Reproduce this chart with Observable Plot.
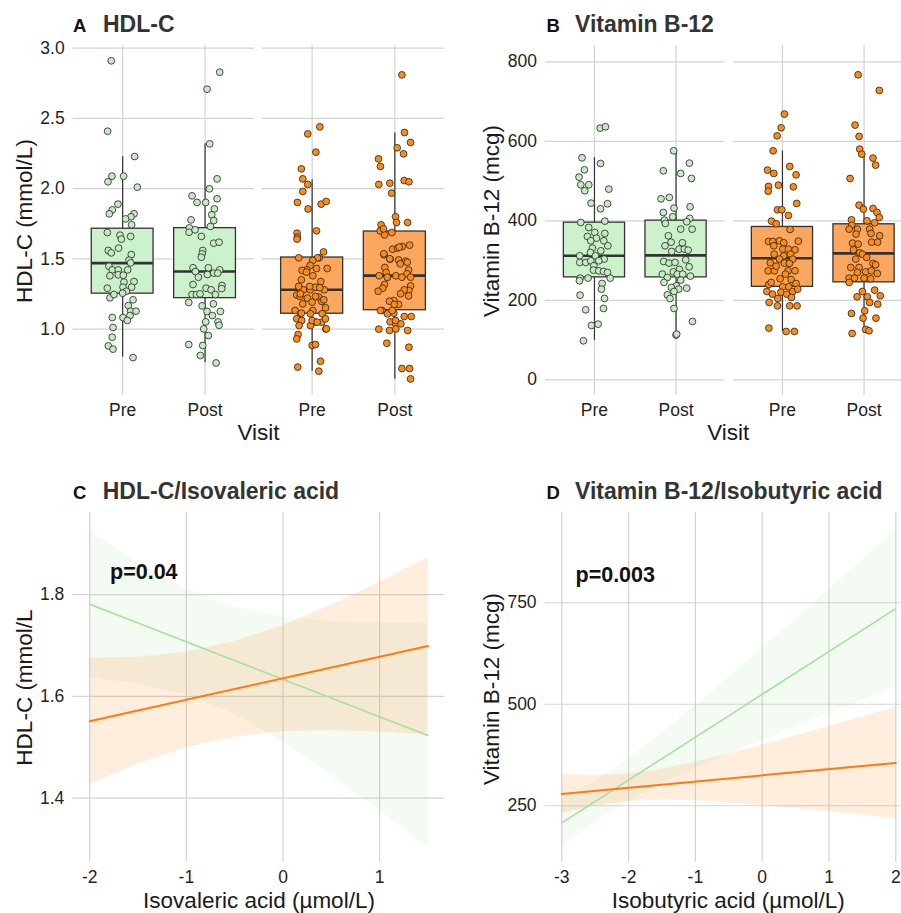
<!DOCTYPE html>
<html><head><meta charset="utf-8">
<script src="https://cdn.jsdelivr.net/npm/d3@7"></script>
<script src="https://cdn.jsdelivr.net/npm/@observablehq/plot@0.6"></script>
<style>
html,body{margin:0;padding:0;background:#fff;overflow:hidden;}
#fig{position:relative;width:912px;height:913px;font-family:"Liberation Sans",Arial,Helvetica,sans-serif;}
</style></head><body><div id="fig"></div>
<script>
// ---------- DATA ----------
const visits = ["Pre", "Post"];

// Panel A: HDL-C (mmol/L); points as [jitter, value]
const hdlGreenPre = [[-0.138,2.910],[-0.182,2.409],[0.146,2.229],[-0.130,2.089],[0.012,2.089],[-0.178,2.049],[0.178,2.011],[-0.057,1.890],[-0.126,1.849],[-0.162,1.821],[0.138,1.821],[0.101,1.800],[0.036,1.785],[0.109,1.743],[-0.186,1.688],[-0.032,1.669],[-0.016,1.641],[0.097,1.660],[-0.174,1.560],[-0.138,1.543],[-0.049,1.577],[0.105,1.531],[0.077,1.491],[0.097,1.472],[-0.166,1.448],[-0.126,1.422],[-0.053,1.422],[0.061,1.422],[-0.154,1.380],[-0.053,1.387],[0.008,1.384],[0.138,1.339],[0.016,1.335],[0.004,1.299],[0.109,1.299],[-0.186,1.292],[0.045,1.270],[0.000,1.256],[-0.154,1.223],[-0.105,1.247],[0.126,1.209],[0.069,1.168],[0.097,1.128],[0.162,1.128],[0.089,1.097],[-0.126,1.083],[0.004,1.083],[0.057,1.062],[-0.117,1.012],[-0.126,0.943],[-0.174,0.881],[-0.117,0.858],[0.126,0.798]];
const hdlGreenPost = [[0.178,2.829],[0.024,2.708],[0.057,2.319],[0.146,2.070],[0.053,1.999],[0.146,1.928],[-0.158,1.949],[-0.097,1.902],[0.008,1.902],[0.113,1.856],[0.081,1.814],[0.105,1.773],[-0.170,1.778],[0.065,1.731],[-0.190,1.721],[-0.194,1.690],[-0.121,1.707],[-0.045,1.660],[0.105,1.612],[0.170,1.619],[-0.028,1.560],[-0.036,1.536],[-0.045,1.512],[-0.146,1.437],[0.040,1.437],[-0.117,1.410],[0.178,1.422],[0.105,1.399],[0.154,1.399],[0.028,1.389],[-0.081,1.370],[0.206,1.311],[0.202,1.289],[-0.146,1.318],[0.012,1.292],[0.073,1.280],[0.125,1.247],[-0.158,1.247],[-0.105,1.247],[-0.061,1.251],[-0.198,1.190],[-0.036,1.166],[0.101,1.180],[0.024,1.126],[0.186,1.126],[0.089,1.097],[0.008,1.052],[0.158,1.052],[0.170,1.028],[-0.016,1.002],[0.040,0.955],[-0.198,0.891],[-0.028,0.884],[-0.057,0.813],[0.134,0.760]];
const hdlOrangePre = [[0.093,2.440],[-0.053,2.390],[0.045,2.260],[-0.130,2.141],[-0.113,2.070],[-0.053,2.030],[-0.113,1.980],[-0.178,1.902],[0.109,1.890],[0.170,1.909],[-0.049,1.856],[0.053,1.700],[-0.182,1.683],[-0.178,1.655],[-0.182,1.641],[0.138,1.550],[-0.162,1.508],[0.085,1.508],[0.065,1.508],[0.008,1.489],[-0.024,1.453],[-0.065,1.422],[0.053,1.432],[0.182,1.432],[0.008,1.380],[0.105,1.339],[-0.130,1.351],[-0.154,1.294],[-0.105,1.280],[-0.024,1.280],[0.040,1.299],[0.146,1.280],[-0.186,1.244],[-0.146,1.233],[-0.057,1.221],[0.081,1.228],[-0.113,1.180],[0.000,1.192],[0.117,1.197],[0.162,1.152],[-0.206,1.133],[-0.142,1.109],[0.008,1.133],[-0.186,1.074],[-0.126,1.062],[0.040,1.050],[0.117,1.050],[-0.020,1.026],[0.166,1.002],[-0.158,1.026],[-0.170,0.962],[-0.186,0.931],[0.000,0.884],[0.040,0.891],[0.101,0.772],[-0.174,0.730],[0.081,0.701],[-0.121,1.418],[-0.069,1.406],[-0.163,1.304],[-0.029,1.304],[0.092,1.295],[-0.142,1.252],[0.040,1.233],[0.141,1.209],[-0.130,1.114],[-0.021,1.110],[0.121,1.110],[0.000,1.062],[0.161,1.074],[0.061,1.050],[0.172,1.003]];
const hdlOrangePost = [[0.085,2.810],[0.117,2.400],[0.190,2.329],[0.028,2.291],[0.105,2.248],[-0.198,2.212],[-0.174,2.158],[-0.194,2.030],[-0.061,2.039],[-0.040,1.968],[0.113,2.058],[0.170,2.049],[0.008,1.800],[0.020,1.759],[0.154,1.759],[-0.166,1.743],[-0.178,1.700],[-0.125,1.671],[-0.138,1.714],[-0.036,1.688],[-0.028,1.569],[0.032,1.577],[0.089,1.588],[0.178,1.598],[-0.130,1.529],[-0.057,1.498],[0.045,1.493],[0.130,1.484],[0.065,1.465],[-0.121,1.439],[-0.105,1.403],[0.166,1.422],[0.146,1.394],[-0.190,1.380],[-0.089,1.370],[0.012,1.380],[0.085,1.370],[0.190,1.308],[-0.125,1.318],[-0.146,1.292],[-0.202,1.270],[0.170,1.275],[0.113,1.280],[0.166,1.237],[-0.012,1.204],[-0.065,1.199],[0.045,1.176],[-0.154,1.133],[-0.089,1.109],[-0.012,1.114],[0.113,1.090],[0.198,1.090],[-0.057,1.052],[0.008,1.038],[0.073,1.038],[-0.065,0.991],[0.012,1.002],[0.154,0.991],[-0.194,1.000],[-0.097,0.900],[0.170,0.872],[0.085,0.720],[0.178,0.720],[0.190,0.646],[-0.008,1.176],[-0.133,1.537],[0.053,1.584],[-0.061,1.501],[0.150,1.477],[-0.092,1.370],[0.191,1.370],[0.069,1.252],[-0.174,1.133],[-0.032,1.133],[0.008,1.062]];
// box stats [lower whisker, Q1, median, Q3, upper whisker] for Pre, Post
const hdlGreenStats = [[0.800,1.253,1.470,1.715,2.228],[0.761,1.221,1.411,1.719,2.320]];
const hdlOrangeStats = [[0.701,1.110,1.281,1.510,2.064],[0.644,1.135,1.381,1.695,2.397]];
const hdlTicks = [1.0, 1.5, 2.0, 2.5, 3.0];

// Panel B: Vitamin B-12 (mcg)
const b12GreenPre = [[0.070,633.1],[0.135,636.5],[-0.152,558.5],[0.074,544.2],[-0.123,528.3],[-0.189,509.9],[-0.168,490.6],[-0.070,490.6],[-0.119,475.5],[0.176,479.7],[-0.041,444.4],[0.160,442.8],[0.074,430.2],[-0.168,395.8],[0.127,399.2],[-0.070,383.2],[0.004,370.6],[-0.086,360.6],[0.127,368.1],[0.025,356.4],[-0.045,349.7],[0.115,349.7],[0.164,337.1],[-0.025,331.2],[-0.049,320.3],[0.078,324.5],[0.012,311.9],[-0.180,311.9],[0.119,303.6],[-0.180,295.2],[-0.107,295.2],[-0.045,299.4],[0.053,299.4],[-0.008,286.8],[-0.012,275.9],[0.053,274.2],[0.111,272.5],[0.160,270.0],[0.193,255.8],[-0.176,255.8],[-0.078,255.8],[-0.184,249.1],[0.094,242.3],[0.086,228.1],[-0.176,213.0],[0.123,204.6],[-0.107,176.1],[0.111,179.4],[-0.037,136.7],[0.045,140.0],[-0.135,98.1]];
const b12GreenPost = [[-0.029,576.1],[0.164,545.1],[-0.156,525.8],[0.057,519.1],[0.189,506.5],[-0.184,455.3],[-0.082,458.7],[-0.025,431.9],[0.172,435.2],[-0.156,421.0],[-0.041,410.1],[-0.143,401.7],[-0.131,393.3],[0.168,405.9],[0.131,397.5],[0.057,379.0],[0.197,379.0],[-0.094,362.3],[-0.061,346.3],[0.078,344.7],[-0.135,337.1],[0.037,328.7],[0.102,328.7],[-0.053,322.8],[0.148,326.2],[-0.152,297.7],[-0.086,293.5],[-0.012,295.2],[0.119,301.9],[0.160,284.3],[0.041,277.6],[-0.033,271.7],[-0.168,265.8],[0.016,265.8],[0.082,265.8],[-0.107,257.4],[0.176,260.8],[-0.148,244.9],[0.057,250.7],[0.004,236.5],[-0.057,232.3],[0.131,230.6],[0.033,228.1],[-0.025,222.2],[-0.107,213.8],[-0.074,204.6],[-0.025,179.4],[0.201,146.7],[0.000,112.4],[0.008,114.9]];
const b12OrangePre = [[0.024,668.4],[-0.016,634.0],[-0.065,613.8],[-0.114,576.1],[-0.183,527.5],[-0.106,519.1],[0.089,536.7],[0.167,515.7],[-0.171,486.4],[-0.049,489.7],[0.134,485.5],[-0.175,474.6],[0.175,443.6],[-0.061,427.7],[-0.008,427.7],[0.073,413.4],[-0.134,399.2],[-0.077,392.5],[0.093,378.2],[-0.171,348.0],[-0.118,348.0],[-0.037,349.7],[0.016,344.7],[0.195,348.8],[-0.106,337.1],[0.004,328.7],[0.073,328.7],[0.154,327.0],[-0.102,316.1],[0.016,311.9],[0.098,316.1],[-0.037,303.6],[0.126,303.6],[-0.150,294.3],[0.024,293.5],[0.085,292.7],[-0.175,274.2],[-0.098,274.2],[0.069,274.2],[0.154,274.2],[-0.028,254.1],[0.106,252.4],[0.167,242.3],[-0.167,239.8],[0.004,233.9],[0.077,233.9],[-0.191,222.2],[-0.122,215.5],[-0.020,220.5],[0.053,215.5],[0.126,222.2],[0.187,228.1],[-0.057,204.6],[0.110,207.1],[-0.163,194.5],[-0.061,186.1],[0.089,186.1],[0.179,186.1],[-0.167,130.0],[0.045,121.6],[0.146,121.6],[0.037,265.8],[-0.077,285.9],[-0.138,244.9]];
const b12OrangePost = [[-0.073,767.3],[0.187,727.9],[-0.110,640.7],[-0.061,612.2],[-0.053,580.3],[-0.028,567.7],[0.110,557.7],[0.142,540.0],[-0.171,506.5],[-0.061,439.4],[-0.008,429.4],[0.110,431.0],[0.159,421.0],[0.187,408.4],[-0.154,402.5],[-0.150,389.1],[0.037,400.0],[0.130,395.0],[-0.183,379.0],[-0.081,379.0],[0.069,379.0],[0.085,368.1],[-0.098,366.5],[0.191,362.3],[0.093,346.3],[-0.142,343.8],[0.167,346.3],[-0.073,341.3],[-0.130,327.0],[-0.053,319.5],[-0.020,316.1],[-0.102,303.6],[0.033,307.8],[0.110,292.7],[-0.163,282.6],[-0.061,282.6],[0.142,289.3],[-0.081,270.0],[0.020,271.7],[0.089,274.2],[0.163,267.5],[-0.183,255.8],[-0.118,255.8],[0.000,255.8],[0.081,254.1],[-0.183,244.9],[-0.020,222.2],[-0.085,208.8],[0.041,208.8],[0.130,225.6],[0.199,211.3],[0.069,194.5],[0.167,190.3],[0.008,173.6],[-0.154,166.9],[-0.012,155.1],[0.146,155.1],[0.020,126.6],[0.061,123.3],[-0.146,116.6]];
const b12GreenStats = [[99,257.7,311.9,395.3,558.9],[111,257.7,313.0,400.4,576.4]];
const b12OrangeStats = [[122,233.9,305.6,384.5,575.6],[117,245.2,318.1,391.2,567.3]];
const b12Ticks = [0, 200, 400, 600, 800];

// Panel C: HDL-C vs isovaleric acid (fits and 95% bands)
const isoX = [-2, -1.5, -1, -0.5, 0, 0.5, 1, 1.5];
const hdlGreenUpper = [1.926, 1.862, 1.811, 1.776, 1.756, 1.747, 1.744, 1.744];
const hdlGreenLower = [1.636, 1.625, 1.603, 1.565, 1.510, 1.445, 1.376, 1.302];
const hdlOrangeUpper = [1.675, 1.677, 1.687, 1.708, 1.739, 1.779, 1.824, 1.873];
const hdlOrangeLower = [1.427, 1.467, 1.499, 1.520, 1.531, 1.533, 1.530, 1.525];
const isoFitX = [-2, 1.5];
const hdlGreenFit = [1.781, 1.523];
const hdlOrangeFit = [1.551, 1.699];

// Panel D: Vitamin B-12 vs isobutyric acid
const butX = [-3, -2.5, -2, -1.5, -1, -0.5, 0, 0.5, 1, 1.5, 2];
const b12GreenUpper = [264.7, 310.8, 365.7, 428.3, 495.9, 566.0, 637.6, 710.0, 782.9, 856.1, 929.6];
const b12GreenLower = [150.7, 210.2, 260.9, 303.9, 341.9, 377.2, 411.2, 444.4, 477.1, 509.5, 541.6];
const b12OrangeUpper = [326.6, 324.5, 328.4, 339.8, 357.2, 377.6, 399.5, 422.2, 445.3, 468.9, 492.5];
const b12OrangeLower = [231.6, 248.9, 260.4, 264.2, 262.2, 257.0, 250.5, 243.0, 235.1, 226.9, 218.5];
const butFitX = [-3, 2];
const b12GreenFit = [207.7, 735.6];
const b12OrangeFit = [279.1, 355.5];

// ---------- STYLE ----------
const FONT = "'Liberation Sans', Arial, Helvetica, sans-serif";
const GRID = "#d3d3d3";
const GREEN_BOX = "#ccf2cc", GREEN_DOT = "#c4ecc0";
const ORANGE_BOX = "#fda65e", ORANGE_DOT = "#ff8b17";
const GREEN_LINE = "#a5e29b", ORANGE_LINE = "#ff7b0f";
const baseStyle = {fontFamily: FONT, fontSize: "17.5px", color: "#1f1f1f", background: "transparent", overflow: "visible"};
const fig = document.getElementById("fig");
const fmtMinus = d => d < 0 ? "-" + (-d) : String(d);

function place(el, left, top) {
  el.style.position = "absolute";
  el.style.left = left + "px";
  el.style.top = top + "px";
  el.style.maxWidth = "none";
  fig.appendChild(el);
}

function boxFacet(o) {
  const statsT = o.stats.map((s, i) => ({v: i + 1, lo: s[0], q1: s[1], med: s[2], q3: s[3], hi: s[4]}));
  const ptsT = o.pts.flatMap((arr, i) => arr.map(([dx, y]) => ({v: i + 1, dx, y})));
  const el = Plot.plot({
    width: o.width, height: 450,
    marginLeft: o.ml, marginRight: o.mr, marginTop: 45, marginBottom: 55,
    style: baseStyle,
    x: {domain: [0.4, 2.6], ticks: [1, 2], tickFormat: d => visits[d - 1], tickSize: 0, tickPadding: 8.5, label: null},
    y: {domain: o.yDomain, ticks: o.yTicks, tickFormat: o.yFmt, tickSize: 0, tickPadding: 8.5, label: null, axis: o.showY ? "left" : null},
    marks: [
      Plot.ruleY(o.yTicks, {stroke: GRID, strokeWidth: 1.2}),
      Plot.ruleX([1, 2], {stroke: GRID, strokeWidth: 1.2}),
      Plot.ruleX(statsT, {x: "v", y1: "lo", y2: "hi", stroke: "#333", strokeWidth: 1.2}),
      Plot.rect(statsT, {x1: d => d.v - 0.375, x2: d => d.v + 0.375, y1: "q1", y2: "q3", fill: o.boxFill, stroke: "#333", strokeWidth: 1.3}),
      Plot.ruleY(statsT, {x1: d => d.v - 0.375, x2: d => d.v + 0.375, y: "med", stroke: "#333", strokeWidth: 2.6}),
      Plot.dot(ptsT, {x: d => d.v + d.dx, y: "y", r: 3.4, fill: o.dotFill, stroke: "#222", strokeWidth: 0.8})
    ]
  });
  place(el, o.left, 0);
}

function regPanel(o) {
  const gBand = o.xs.map((x, i) => ({x, lo: o.gLo[i], hi: o.gHi[i]}));
  const oBand = o.xs.map((x, i) => ({x, lo: o.oLo[i], hi: o.oHi[i]}));
  const fits = o.fitX.map((x, i) => ({x, g: o.gFit[i], o: o.oFit[i]}));
  const el = Plot.plot({
    width: o.width, height: 453,
    marginLeft: o.ml, marginRight: o.mr, marginTop: 52.3, marginBottom: 51.3,
    style: baseStyle,
    x: {domain: o.xDomain, ticks: o.xTicks, tickFormat: fmtMinus, tickSize: 0, tickPadding: 8, label: null},
    y: {domain: o.yDomain, ticks: o.yTicks, tickFormat: o.yFmt, tickSize: 0, tickPadding: 8.5, label: null},
    marks: [
      Plot.ruleY(o.yTicks, {stroke: GRID, strokeWidth: 1.2}),
      Plot.ruleX(o.xTicks, {stroke: GRID, strokeWidth: 1.2}),
      Plot.areaY(gBand, {x: "x", y1: "lo", y2: "hi", fill: GREEN_LINE, fillOpacity: 0.12}),
      Plot.areaY(oBand, {x: "x", y1: "lo", y2: "hi", fill: "#ff8c2a", fillOpacity: 0.16}),
      Plot.line(fits, {x: "x", y: "g", stroke: GREEN_LINE, strokeWidth: 1.6}),
      Plot.line(fits, {x: "x", y: "o", stroke: ORANGE_LINE, strokeWidth: 2}),
      Plot.text([o.pLabel], {x: "x", y: "y", text: "t", textAnchor: "start", fontWeight: "bold", fontSize: 21.5, fill: "#111"})
    ]
  });
  place(el, o.left, 460);
}

// Panel A
boxFacet({left: 0, width: 254, ml: 72.7, mr: 0, pts: [hdlGreenPre, hdlGreenPost], stats: hdlGreenStats,
  yDomain: [0.528, 3.019], yTicks: hdlTicks, yFmt: d3.format(".1f"), showY: true, boxFill: GREEN_BOX, dotFill: GREEN_DOT});
boxFacet({left: 262, width: 188, ml: 0, mr: 6, pts: [hdlOrangePre, hdlOrangePost], stats: hdlOrangeStats,
  yDomain: [0.528, 3.019], yTicks: hdlTicks, yFmt: d3.format(".1f"), showY: false, boxFill: ORANGE_BOX, dotFill: ORANGE_DOT});
// Panel B
boxFacet({left: 450, width: 274.5, ml: 95, mr: 0, pts: [b12GreenPre, b12GreenPost], stats: b12GreenStats,
  yDomain: [-39.5, 841], yTicks: b12Ticks, yFmt: d => String(d), showY: true, boxFill: GREEN_BOX, dotFill: GREEN_DOT});
boxFacet({left: 732.5, width: 179.5, ml: 0, mr: 0, pts: [b12OrangePre, b12OrangePost], stats: b12OrangeStats,
  yDomain: [-39.5, 841], yTicks: b12Ticks, yFmt: d => String(d), showY: false, boxFill: ORANGE_BOX, dotFill: ORANGE_DOT});
// Panel C
regPanel({left: 0, width: 450, ml: 72.3, mr: 5.6, xDomain: [-2.175, 1.675], xTicks: [-2, -1, 0, 1],
  yDomain: [1.274, 1.961], yTicks: [1.4, 1.6, 1.8], yFmt: d3.format(".1f"),
  xs: isoX, gLo: hdlGreenLower, gHi: hdlGreenUpper, oLo: hdlOrangeLower, oHi: hdlOrangeUpper,
  fitX: isoFitX, gFit: hdlGreenFit, oFit: hdlOrangeFit, pLabel: {x: -1.79, y: 1.844, t: "p=0.04"}});
// Panel D
regPanel({left: 450, width: 462, ml: 94.6, mr: 0, xDomain: [-3.25, 2.25], xTicks: [-3, -2, -1, 0, 1, 2],
  yDomain: [111, 971.5], yTicks: [250, 500, 750], yFmt: d => String(d),
  xs: butX, gLo: b12GreenLower, gHi: b12GreenUpper, oLo: b12OrangeLower, oHi: b12OrangeUpper,
  fitX: butFitX, gFit: b12GreenFit, oFit: b12OrangeFit, pLabel: {x: -2.795, y: 817, t: "p=0.003"}});

// ---------- TITLES & AXIS TITLES ----------
const labels = [
  {x: 73, y: 32, t: "A", s: 18.5, w: "bold", c: "#111"},
  {x: 103, y: 32, t: "HDL-C", s: 23, w: "bold", c: "#333"},
  {x: 546.5, y: 32, t: "B", s: 18.5, w: "bold", c: "#111"},
  {x: 575, y: 32, t: "Vitamin B-12", s: 23, w: "bold", c: "#333"},
  {x: 73, y: 499, t: "C", s: 18.5, w: "bold", c: "#111"},
  {x: 102.7, y: 499, t: "HDL-C/Isovaleric acid", s: 23, w: "bold", c: "#333"},
  {x: 546.5, y: 499, t: "D", s: 18.5, w: "bold", c: "#111"},
  {x: 575, y: 499, t: "Vitamin B-12/Isobutyric acid", s: 23, w: "bold", c: "#333"},
  {x: 258.5, y: 440, t: "Visit", s: 22.5, a: "middle", c: "#1a1a1a"},
  {x: 728.3, y: 440, t: "Visit", s: 22.5, a: "middle", c: "#1a1a1a"},
  {x: 259, y: 907.5, t: "Isovaleric acid (µmol/L)", s: 22.5, a: "middle", c: "#1a1a1a"},
  {x: 728.3, y: 907.5, t: "Isobutyric acid (µmol/L)", s: 22.5, a: "middle", c: "#1a1a1a"},
  {x: 31.5, y: 221, t: "HDL-C (mmol/L)", s: 22.5, a: "middle", r: true, c: "#1a1a1a"},
  {x: 499, y: 221, t: "Vitamin B-12 (mcg)", s: 22.5, a: "middle", r: true, c: "#1a1a1a"},
  {x: 31.5, y: 687.5, t: "HDL-C (mmol/L", s: 22.5, a: "middle", r: true, c: "#1a1a1a"},
  {x: 499, y: 689, t: "Vitamin B-12 (mcg)", s: 22.5, a: "middle", r: true, c: "#1a1a1a"}
];
const ov = d3.create("svg").attr("width", 912).attr("height", 913)
  .style("position", "absolute").style("left", "0px").style("top", "0px").style("pointer-events", "none")
  .style("font-family", FONT);
ov.selectAll("text").data(labels).join("text")
  .attr("transform", d => `translate(${d.x},${d.y})` + (d.r ? " rotate(-90)" : ""))
  .attr("text-anchor", d => d.a || "start")
  .attr("font-size", d => d.s)
  .attr("font-weight", d => d.w || "normal")
  .attr("fill", d => d.c)
  .text(d => d.t);
fig.appendChild(ov.node());
</script></body></html>
